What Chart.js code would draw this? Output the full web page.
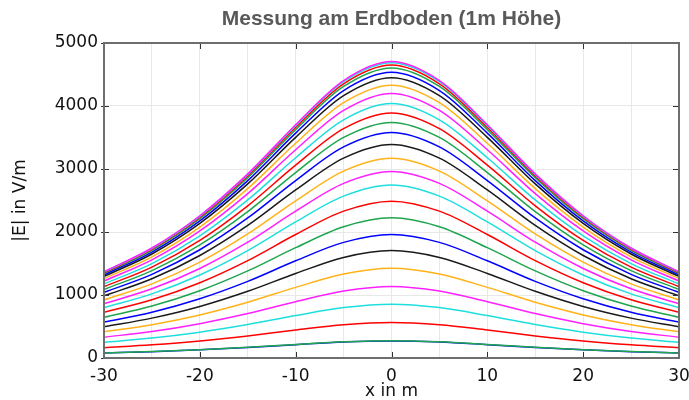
<!DOCTYPE html>
<html>
<head>
<meta charset="utf-8">
<script src="https://cdn.jsdelivr.net/npm/chart.js@4/dist/chart.umd.min.js"></script>
<style>
  html, body { margin: 0; padding: 0; background: #fff; }
</style>
</head>
<body>
<canvas id="fieldChart" width="689" height="400"></canvas>
<script>
// x positions (m)
const xs = [-30, -25, -20, -15, -10, -5, 0, 5, 10, 15, 20, 25, 30];

// |E| in V/m, one curve per simulated line voltage, bottom to top
const curve1  = [79, 100, 130, 168, 212, 253, 270, 253, 212, 168, 130, 100, 79];
const curve2  = [80, 102, 132, 171, 216, 257, 275, 257, 216, 171, 132, 102, 80];
const curve3  = [164, 210, 271, 351, 445, 529, 565, 529, 445, 351, 271, 210, 164];
const curve4  = [249, 317, 410, 531, 673, 800, 855, 800, 673, 531, 410, 317, 249];
const curve5  = [330, 421, 545, 705, 893, 1062, 1135, 1062, 893, 705, 545, 421, 330];
const curve6  = [415, 529, 684, 885, 1121, 1334, 1425, 1334, 1121, 885, 684, 529, 415];
const curve7  = [496, 633, 818, 1059, 1342, 1596, 1705, 1596, 1342, 1059, 818, 633, 496];
const curve8  = [570, 727, 941, 1217, 1543, 1835, 1960, 1835, 1543, 1217, 941, 727, 570];
const curve9  = [647, 825, 1068, 1382, 1751, 2083, 2225, 2083, 1751, 1382, 1068, 825, 647];
const curve10 = [725, 924, 1195, 1546, 1960, 2331, 2490, 2331, 1960, 1546, 1195, 924, 725];
const curve11 = [799, 1018, 1318, 1705, 2160, 2569, 2745, 2569, 2160, 1705, 1318, 1018, 799];
const curve12 = [861, 1098, 1421, 1838, 2330, 2771, 2960, 2771, 2330, 1838, 1421, 1098, 861];
const curve13 = [922, 1176, 1522, 1969, 2495, 2967, 3170, 2967, 2495, 1969, 1522, 1176, 922];
const curve14 = [986, 1258, 1627, 2105, 2668, 3173, 3390, 3173, 2668, 2105, 1627, 1258, 986];
const curve15 = [1042, 1328, 1718, 2223, 2817, 3351, 3580, 3351, 2817, 2223, 1718, 1328, 1042];
const curve16 = [1088, 1388, 1795, 2323, 2943, 3501, 3740, 3501, 2943, 2323, 1795, 1388, 1088];
const curve17 = [1132, 1443, 1867, 2416, 3061, 3641, 3890, 3641, 3061, 2416, 1867, 1443, 1132];
const curve18 = [1176, 1499, 1939, 2509, 3179, 3781, 4040, 3781, 3179, 2509, 1939, 1499, 1176];
const curve19 = [1222, 1558, 2016, 2608, 3305, 3931, 4200, 3931, 3305, 2608, 2016, 1558, 1222];
const curve20 = [1260, 1606, 2078, 2689, 3408, 4053, 4330, 4053, 3408, 2689, 2078, 1606, 1260];
const curve21 = [1295, 1651, 2136, 2763, 3502, 4165, 4450, 4165, 3502, 2763, 2136, 1651, 1295];
const curve22 = [1320, 1682, 2177, 2816, 3569, 4245, 4535, 4245, 3569, 2816, 2177, 1682, 1320];
const curve23 = [1340, 1708, 2210, 2860, 3624, 4310, 4605, 4310, 3624, 2860, 2210, 1708, 1340];
const curve24 = [1353, 1725, 2232, 2888, 3660, 4352, 4650, 4352, 3660, 2888, 2232, 1725, 1353];
const curve25 = [1363, 1738, 2249, 2909, 3687, 4385, 4685, 4385, 3687, 2909, 2249, 1738, 1363];
const curve26 = [1369, 1746, 2258, 2922, 3703, 4404, 4705, 4404, 3703, 2922, 2258, 1746, 1369];

const curves = [curve1, curve2, curve3, curve4, curve5, curve6, curve7, curve8, curve9,
  curve10, curve11, curve12, curve13, curve14, curve15, curve16, curve17, curve18,
  curve19, curve20, curve21, curve22, curve23, curve24, curve25, curve26];

// colour cycle: blue, green, red, cyan, magenta, yellow/orange, black
const palette = ['#0000ff', '#1fa54e', '#ff0000', '#1fdede', '#ff1fff', '#ffb319', '#1a1a1a'];

const xTickLabels = [-30, -20, -10, 0, 10, 20, 30];
const yTickLabels = [0, 1000, 2000, 3000, 4000, 5000];
const chartTitle = 'Messung am Erdboden (1m Höhe)';

const datasets = curves.map((vals, i) => ({
  label: 'curve ' + (i + 1),
  data: vals.map((v, j) => ({ x: xs[j], y: v })),
  borderColor: palette[i % palette.length],
  borderWidth: 1.5,
  pointRadius: 0,
  fill: false,
  cubicInterpolationMode: 'monotone',
  order: curves.length - i
}));

// frame with inward ticks on all four sides, title centred over the plot
const framePlugin = {
  id: 'frame',
  afterDatasetsDraw(chart) {
    const { ctx, chartArea: a, scales } = chart;
    ctx.save();
    ctx.strokeStyle = '#333';
    ctx.lineWidth = 1;
    xTickLabels.forEach(v => {
      const px = Math.round(scales.x.getPixelForValue(v)) + 0.5;
      ctx.beginPath();
      ctx.moveTo(px, a.bottom); ctx.lineTo(px, a.bottom - 6);
      ctx.moveTo(px, a.top); ctx.lineTo(px, a.top + 6);
      ctx.stroke();
    });
    yTickLabels.forEach(v => {
      const py = Math.round(scales.y.getPixelForValue(v)) + 0.5;
      ctx.beginPath();
      ctx.moveTo(a.left - 3, py); ctx.lineTo(a.left + 5, py);
      ctx.moveTo(a.right, py); ctx.lineTo(a.right - 6, py);
      ctx.stroke();
    });
    ctx.strokeStyle = '#6e6e6e';
    ctx.lineWidth = 2;
    ctx.strokeRect(a.left, a.top, a.right - a.left, a.bottom - a.top);

    ctx.fillStyle = '#595959';
    ctx.font = 'bold 21px "Liberation Sans"';
    ctx.textAlign = 'center';
    ctx.textBaseline = 'middle';
    ctx.fillText(chartTitle, (a.left + a.right) / 2, 19);
    ctx.restore();
  }
};

const tickFont = { family: 'DejaVu Sans', size: 17 };

new Chart(document.getElementById('fieldChart').getContext('2d'), {
  type: 'line',
  data: { datasets },
  options: {
    responsive: false,
    animation: false,
    devicePixelRatio: 1,
    layout: { padding: { left: 0, right: 10, top: 43, bottom: 0 } },
    plugins: {
      legend: { display: false },
      tooltip: { enabled: false },
      title: { display: false }
    },
    scales: {
      x: {
        type: 'linear',
        min: -30,
        max: 30,
        ticks: {
          stepSize: 5,
          autoSkip: false,
          maxRotation: 0,
          padding: 8,
          color: '#111',
          font: tickFont,
          callback: v => (v % 10 === 0 ? String(v) : '')
        },
        grid: { color: '#e8e8e8', drawTicks: false },
        border: { display: false },
        title: {
          display: true,
          text: 'x in m',
          color: '#111',
          font: { family: 'DejaVu Sans', size: 17, lineHeight: 1 },
          padding: 0
        },
        afterFit: s => { s.height = 42; s.paddingLeft = 0; s.paddingRight = 0; }
      },
      y: {
        min: 0,
        max: 5000,
        ticks: {
          stepSize: 1000,
          padding: 6,
          color: '#111',
          font: tickFont,
          callback: v => String(v)
        },
        grid: { color: '#e8e8e8', drawTicks: false },
        border: { display: false },
        title: {
          display: true,
          text: '|E| in V/m',
          color: '#111',
          font: { family: 'DejaVu Sans', size: 17, lineHeight: 1.2 },
          padding: { top: 10, bottom: 0 }
        },
        afterFit: s => { s.width = 104; s.paddingTop = 0; s.paddingBottom = 0; }
      }
    }
  },
  plugins: [framePlugin]
});
</script>
</body>
</html>
